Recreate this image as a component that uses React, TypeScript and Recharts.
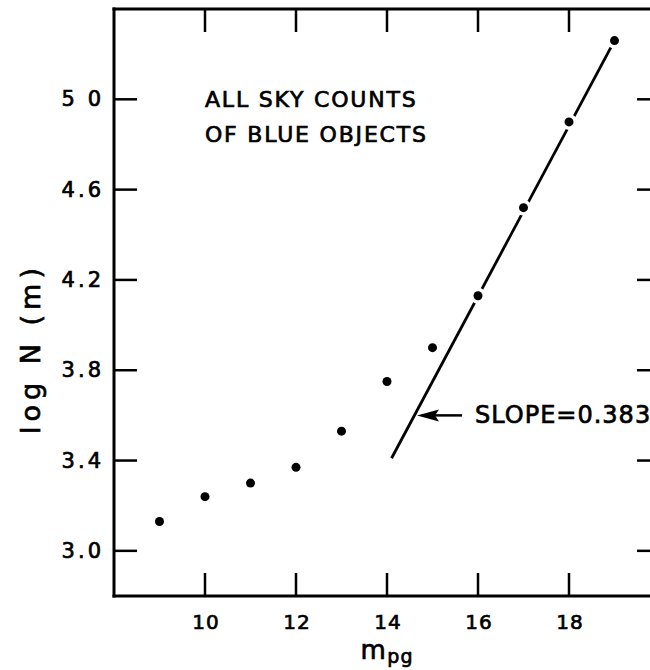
import {
  ComposedChart,
  Line,
  ReferenceDot,
  ReferenceLine,
  Scatter,
  XAxis,
  YAxis,
} from "recharts";

// observed counts, one per magnitude
const magnitudes = [9, 10, 11, 12, 13, 14, 15, 16, 17, 18, 19];
const logCounts = [3.13, 3.24, 3.3, 3.37, 3.53, 3.75, 3.9, 4.13, 4.52, 4.9, 5.26];

// fitted straight line (slope 0.383)
const fitMags = [14.1, 19];
const fitLogN = [3.41, 5.26];

const xTicks = [10, 12, 14, 16, 18];
const yTicks = [3.0, 3.4, 3.8, 4.2, 4.6, 5.0];
const yTickLabels = ["3.0", "3.4", "3.8", "4.2", "4.6", "5 0"];

const titleLines = ["ALL SKY COUNTS", "OF BLUE OBJECTS"];
const slopeText = "SLOPE=0.383";
const arrowTail = { x: 15.65, y: 3.6 };
const arrowTip = { x: 14.66, y: 3.6 };
const titleAt = { x: 10.0, y: 4.966 };

const points = magnitudes.map((m, i) => ({ x: m, y: logCounts[i] }));
const fit = fitMags.map((m, i) => ({ x: m, y: fitLogN[i] }));

const FONT = "'DejaVu Sans', sans-serif";
const INK = "#000";
const TICK = 23;
// thicken the lettering a little, like the stencil text in the scan
const bold = { stroke: INK, strokeWidth: 0.7 };

const BottomTick = (p: any) => (
  <g>
    <line x1={p.x} y1={p.y} x2={p.x} y2={p.y - TICK} stroke={INK} strokeWidth={2.5} />
    <text
      x={p.x + 1}
      y={p.y + 33}
      textAnchor="middle"
      fontFamily={FONT}
      fontSize={20}
      letterSpacing={1}
      fill={INK}
      {...bold}
    >
      {p.payload.value}
    </text>
  </g>
);

const TopTick = (p: any) => (
  <line x1={p.x} y1={p.y} x2={p.x} y2={p.y + TICK} stroke={INK} strokeWidth={2.5} />
);

const LeftTick = (p: any) => {
  const i = yTicks.indexOf(p.payload.value);
  return (
    <g>
      <line x1={p.x} y1={p.y} x2={p.x + TICK} y2={p.y} stroke={INK} strokeWidth={2.5} />
      <text
        x={p.x - 10}
        y={p.y}
        dominantBaseline="central"
        textAnchor="end"
        fontFamily={FONT}
        fontSize={21}
        letterSpacing={3}
        fill={INK}
        {...bold}
      >
        {i >= 0 ? yTickLabels[i] : p.payload.value}
      </text>
    </g>
  );
};

const RightTick = (p: any) => (
  <line x1={p.x} y1={p.y} x2={p.x - TICK} y2={p.y} stroke={INK} strokeWidth={2.5} />
);

const Dot = (p: any) => (
  <g>
    <circle cx={p.cx} cy={p.cy} r={8} fill="#fff" />
    <circle cx={p.cx} cy={p.cy} r={4.5} fill={INK} />
  </g>
);

const ArrowShape = (p: any) => {
  const tip = Math.min(p.x1, p.x2);
  const tail = Math.max(p.x1, p.x2);
  const y = p.y1;
  return (
    <g>
      <line x1={tail} y1={y} x2={tip + 18} y2={y} stroke={INK} strokeWidth={2.5} />
      <polygon
        points={`${tip},${y} ${tip + 22},${y - 6} ${tip + 18},${y} ${tip + 22},${y + 6}`}
        fill={INK}
      />
      <text
        x={tail + 13}
        y={y}
        dominantBaseline="central"
        fontFamily={FONT}
        fontSize={24}
        letterSpacing={1}
        fill={INK}
        {...bold}
      >
        {slopeText}
      </text>
    </g>
  );
};

const TitleShape = (p: any) => (
  <text
    x={p.cx}
    y={p.cy}
    fontFamily={FONT}
    fontSize={22}
    letterSpacing={1.8}
    fill={INK}
    {...bold}
  >
    {titleLines.map((t, i) => (
      <tspan key={t} x={p.cx} dy={i === 0 ? 0 : 35}>
        {t}
      </tspan>
    ))}
  </text>
);

const XLabel = (p: any) => {
  const vb = p.viewBox;
  return (
    <text
      x={vb.x + vb.width / 2}
      y={vb.y + 63}
      textAnchor="middle"
      fontFamily={FONT}
      fill={INK}
      {...bold}
    >
      <tspan fontSize={26} letterSpacing={1.5}>m</tspan>
      <tspan fontSize={19} dy={4} letterSpacing={1}>pg</tspan>
    </text>
  );
};

const YLabel = (p: any) => {
  const vb = p.viewBox;
  const cx = 30;
  const cy = vb.y + vb.height / 2 + 46;
  return (
    <text
      x={cx}
      y={cy}
      transform={`rotate(-90 ${cx} ${cy})`}
      textAnchor="middle"
      dominantBaseline="central"
      fontFamily={FONT}
      fontSize={27}
      letterSpacing={5}
      fill={INK}
      {...bold}
    >
      log N (m)
    </text>
  );
};

const frame = { stroke: INK, strokeWidth: 3, strokeLinecap: "square" as const };

export default function App() {
  return (
    <div
      style={{
        position: "fixed",
        left: 0,
        top: 0,
        width: 650,
        height: 670,
        overflow: "hidden",
        background: "#fff",
      }}
    >
      <ComposedChart
        width={680}
        height={670}
        data={points}
        margin={{ top: 8, right: 19, left: 0, bottom: 0 }}
      >
        <XAxis
          xAxisId="b"
          dataKey="x"
          type="number"
          domain={[8, 20]}
          ticks={xTicks}
          interval={0}
          allowDataOverflow
          height={74}
          tickSize={0}
          tickMargin={0}
          tickLine={false}
          axisLine={frame}
          tick={<BottomTick />}
          label={<XLabel />}
        />
        <XAxis
          xAxisId="t"
          orientation="top"
          dataKey="x"
          type="number"
          domain={[8, 20]}
          ticks={xTicks}
          interval={0}
          allowDataOverflow
          height={1}
          tickSize={0}
          tickMargin={0}
          tickLine={false}
          axisLine={frame}
          tick={<TopTick />}
        />
        <YAxis
          yAxisId="l"
          dataKey="y"
          type="number"
          domain={[2.8, 5.4]}
          ticks={yTicks}
          interval={0}
          allowDataOverflow
          width={114}
          tickSize={0}
          tickMargin={0}
          tickLine={false}
          axisLine={frame}
          tick={<LeftTick />}
          label={<YLabel />}
        />
        <YAxis
          yAxisId="r"
          orientation="right"
          dataKey="y"
          type="number"
          domain={[2.8, 5.4]}
          ticks={yTicks}
          interval={0}
          allowDataOverflow
          width={1}
          tickSize={0}
          tickMargin={0}
          tickLine={false}
          axisLine={frame}
          tick={<RightTick />}
        />
        <Line
          xAxisId="b"
          yAxisId="l"
          data={fit}
          dataKey="y"
          type="linear"
          stroke={INK}
          strokeWidth={2.8}
          dot={false}
          activeDot={false}
          isAnimationActive={false}
        />
        <Scatter
          xAxisId="b"
          yAxisId="l"
          data={points}
          dataKey="y"
          shape={<Dot />}
          isAnimationActive={false}
        />
        <ReferenceLine
          xAxisId="b"
          yAxisId="l"
          segment={[arrowTail, arrowTip]}
          shape={ArrowShape}
        />
        <ReferenceDot
          xAxisId="b"
          yAxisId="l"
          x={titleAt.x}
          y={titleAt.y}
          r={0}
          shape={TitleShape}
        />
      </ComposedChart>
    </div>
  );
}
